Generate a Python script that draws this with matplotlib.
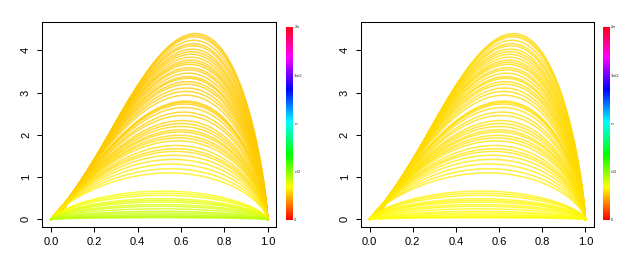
import numpy as np
import matplotlib
matplotlib.use("Agg")
import matplotlib.pyplot as plt
from matplotlib.colors import hsv_to_rgb, Normalize
from matplotlib.cm import ScalarMappable

plt.rcParams['font.family'] = ['Liberation Sans', 'DejaVu Sans']

# peak height and peak position of every curve
peak_height = [4.40, 4.36, 4.32, 4.24, 4.16, 4.11, 4.03, 3.97, 3.91, 3.84,
               3.77, 3.72, 3.67, 3.59, 3.54, 3.46, 3.38, 3.34, 3.26, 3.20,
               3.11, 3.03, 2.94, 2.80, 2.77, 2.73, 2.65, 2.54, 2.46, 2.34,
               2.27, 2.20, 2.12, 2.07, 1.99, 1.93, 1.86, 1.75, 1.67, 1.61,
               1.52, 1.42, 1.31, 1.20, 1.10, 0.67, 0.62, 0.57, 0.49, 0.45,
               0.41, 0.35, 0.31, 0.25, 0.19, 0.15, 0.11, 0.08, 0.06, 0.04]
peak_pos = [0.667, 0.665, 0.663, 0.660, 0.657, 0.655, 0.652, 0.650, 0.648, 0.646,
            0.644, 0.642, 0.640, 0.638, 0.636, 0.634, 0.632, 0.631, 0.629, 0.627,
            0.625, 0.623, 0.621, 0.620, 0.619, 0.618, 0.615, 0.612, 0.609, 0.605,
            0.602, 0.599, 0.596, 0.594, 0.590, 0.587, 0.584, 0.579, 0.575, 0.572,
            0.568, 0.563, 0.558, 0.552, 0.546, 0.515, 0.513, 0.511, 0.508, 0.507,
            0.506, 0.505, 0.504, 0.503, 0.502, 0.501, 0.500, 0.500, 0.500, 0.500]

x_ticks = [0.0, 0.2, 0.4, 0.6, 0.8, 1.0]
y_ticks = [0, 1, 2, 3, 4]
cbar_ticks = [0, np.pi / 2, np.pi, 3 * np.pi / 2, 2 * np.pi]
cbar_labels = ['0', 'π/2', 'π', '3π/2', '2π']

# colour angle (radians on the hue wheel) for the lowest / tallest curves
left_angle = (1.36, 0.82)
right_angle = (1.06, 0.88)


def curve(x, h, p):
    s = 1.2 + 1.05 * h / 4.4
    a = p * s
    b = (1 - p) * s
    return h * (x / p) ** a * ((1 - x) / (1 - p)) ** b


def angle_for(h, ang, scale):
    lo, hi = ang
    return hi + (lo - hi) * np.exp(-h / scale)


def panel(ax, cax, ang, scale):
    x = np.linspace(0, 1, 300)
    for h, p in zip(peak_height, peak_pos):
        hue = angle_for(h, ang, scale) / (2 * np.pi)
        col = hsv_to_rgb([hue, 1.0, 1.0])
        ax.plot(x, curve(x, h, p), color=col, lw=1.1, alpha=0.75)
    ax.set_xlim(-0.04, 1.04)
    ax.set_ylim(-0.18, 4.68)
    ax.set_xticks(x_ticks)
    ax.set_xticklabels(['%.1f' % v for v in x_ticks])
    ax.set_yticks(y_ticks)
    ax.set_yticklabels([str(v) for v in y_ticks], rotation=90, va='center')
    ax.tick_params(length=3.6, width=0.75, labelsize=8, pad=3.5)
    ax.tick_params(axis='y', pad=4.5)
    for sp in ax.spines.values():
        sp.set_linewidth(0.75)

    sm = ScalarMappable(norm=Normalize(0, 2 * np.pi), cmap='hsv')
    cb = plt.colorbar(sm, cax=cax, ticks=cbar_ticks)
    cb.outline.set_visible(False)
    cb.ax.set_yticklabels(cbar_labels)
    cb.ax.tick_params(length=0, labelsize=3, pad=1, colors='#222222')


fig = plt.figure(figsize=(6.23, 2.63), dpi=100)
ax1 = fig.add_axes([0.0679, 0.1369, 0.3757, 0.7806])
cax1 = fig.add_axes([0.459, 0.1635, 0.0112, 0.734])
ax2 = fig.add_axes([0.5795, 0.1369, 0.374, 0.7806])
cax2 = fig.add_axes([0.9674, 0.1635, 0.0112, 0.734])

panel(ax1, cax1, left_angle, 0.9)
panel(ax2, cax2, right_angle, 1.5)

fig.savefig("out.png", dpi=100)
